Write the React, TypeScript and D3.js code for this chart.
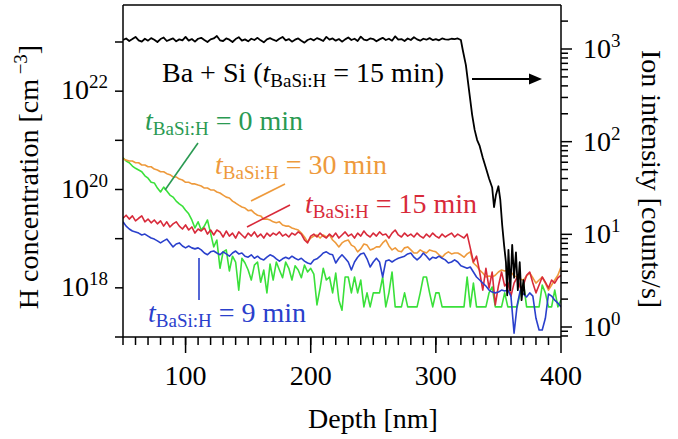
import React from 'react';
import * as d3 from 'd3';

// ---------- data ----------
const depthGrid: number[] = d3.range(0, 141).map((i) => 50 + i * 2.5); // nm

const hGreen0 = [
  4.4e20, 3.8e20, 3.5e20, 3.0e20, 2.7e20, 2.5e20, 2.3e20, 1.9e20, 1.7e20, 1.4e20,
  1.36e20, 1.07e20, 8.9e19, 1.12e20, 9.3e19, 7.7e19, 7.0e19, 5.8e19, 5.1e19, 4.6e19,
  3.8e19, 3.2e19, 2.4e19, 1.65e19, 2.2e19, 1.5e19, 1.8e19, 2.4e19, 1.3e19, 6.8e18,
  9.4e18, 2.5e18, 5.4e18, 5.9e18, 2.2e18, 4.4e18, 3.35e18, 9.0e17, 4.0e18, 3.2e18,
  2.3e18, 1.44e18, 2.9e18, 3.35e18, 1.3e18, 2.3e18, 7.9e17, 3.05e18, 1.44e18, 3.35e18,
  2.3e18, 1.6e18, 3.35e18, 2.5e18, 1.44e18, 2.8e18, 2.3e18, 1.6e18, 2.9e18, 2.1e18,
  2.5e18, 1.9e18, 4.5e17, 9.9e17, 2.5e18, 1.44e18, 1.66e18, 7.9e17, 2.0e18, 5.6e17,
  3.5e17, 1.66e18, 1.66e18, 7.9e17, 1.66e18, 7.9e17, 1.44e18, 4.1e17, 7.9e17, 4.1e17,
  7.9e17, 7.9e17, 7.9e17, 1.66e18, 4.1e17, 7.9e17, 2.1e18, 4.1e17, 4.1e17, 4.1e17,
  7.9e17, 4.1e17, 4.1e17, 4.1e17, 4.1e17, 7.9e17, 1.66e18, 1.66e18, 7.9e17, 4.1e17,
  7.9e17, 7.9e17, 4.1e17, 4.1e17, 4.1e17, 4.1e17, 4.1e17, 4.1e17, 4.1e17, 4.1e17,
  1.66e18, 4.1e17, 1.25e18, 4.1e17, 4.1e17, 4.1e17, 4.1e17, 7.9e17, 1.04e18, 4.1e17,
  4.1e17, 4.1e17, 7.9e17, 4.1e17, 4.1e17, 4.1e17, 4.1e17, 7.9e17, 1.25e18, 4.1e17,
  4.1e17, 4.1e17, 4.1e17, 4.1e17, 1.14e18, 7.9e17, 4.1e17, 4.1e17, 9.0e17, 4.1e17, 5.6e17,
];

const hBlue9 = [
  2.2e19, 1.8e19, 1.57e19, 1.43e19, 1.37e19, 1.3e19, 1.19e19, 1.24e19, 1.13e19, 1.03e19,
  9.8e18, 9.0e18, 8.2e18, 9.0e18, 9.8e18, 8.2e18, 6.8e18, 7.8e18, 8.2e18, 7.1e18,
  6.5e18, 7.1e18, 6.5e18, 6.2e18, 6.5e18, 5.9e18, 5.1e18, 4.7e18, 5.4e18, 5.6e18,
  5.1e18, 4.7e18, 5.4e18, 4.9e18, 4.4e18, 5.1e18, 5.6e18, 4.9e18, 5.1e18, 4.4e18,
  4.2e18, 4.7e18, 4.0e18, 4.4e18, 3.9e18, 3.7e18, 4.2e18, 4.7e18, 4.4e18, 3.9e18,
  3.5e18, 3.9e18, 4.2e18, 3.9e18, 4.4e18, 4.0e18, 3.7e18, 4.0e18, 3.5e18, 3.2e18,
  3.05e18, 3.7e18, 3.9e18, 4.4e18, 5.1e18, 5.4e18, 4.9e18, 4.7e18, 3.2e18, 4.0e18,
  4.7e18, 4.0e18, 3.35e18, 2.3e18, 3.35e18, 4.2e18, 4.9e18, 5.1e18, 3.9e18, 2.65e18,
  3.35e18, 4.0e18, 3.35e18, 1.66e18, 3.5e18, 3.7e18, 3.35e18, 3.7e18, 4.0e18, 4.2e18,
  4.4e18, 4.9e18, 5.1e18, 4.2e18, 3.7e18, 4.2e18, 5.1e18, 4.4e18, 3.7e18, 4.2e18,
  4.0e18, 4.4e18, 4.0e18, 3.7e18, 3.2e18, 3.35e18, 3.7e18, 3.35e18, 2.8e18, 2.65e18,
  2.5e18, 2.65e18, 2.1e18, 1.66e18, 1.44e18, 1.25e18, 1.09e18, 9.0e17, 8.2e17, 7.9e17,
  8.2e17, 9.0e17, 8.6e17, 9.0e17, 6.8e17, 1.2e17, 4.5e17, 9.0e17, 7.5e17, 6.5e17,
  7.9e17, 6.8e17, 2.4e17, 1.39e17, 1.39e17, 2.4e17, 7.5e17, 6.8e17, 5.6e17, 4.9e17, 4.1e17,
];

const hRed15 = [
  2.6e19, 3.0e19, 2.5e19, 2.9e19, 2.3e19, 2.6e19, 2.9e19, 2.2e19, 2.5e19, 2.1e19,
  2.4e19, 2.0e19, 2.3e19, 1.8e19, 2.2e19, 1.73e19, 2.0e19, 2.2e19, 1.8e19, 1.57e19,
  1.9e19, 1.5e19, 1.73e19, 1.3e19, 1.57e19, 1.43e19, 1.65e19, 1.24e19, 1.5e19, 1.19e19,
  1.5e19, 1.37e19, 1.08e19, 1.43e19, 1.13e19, 1.3e19, 1.03e19, 1.37e19, 1.19e19, 1.03e19,
  1.3e19, 1.13e19, 1.37e19, 1.08e19, 1.24e19, 1.03e19, 1.3e19, 1.13e19, 1.3e19, 1.19e19,
  1.37e19, 1.13e19, 1.24e19, 1.08e19, 1.3e19, 1.19e19, 1.37e19, 1.24e19, 9.4e18, 8.2e18,
  1.13e19, 1.24e19, 1.08e19, 1.3e19, 1.13e19, 1.03e19, 1.24e19, 1.08e19, 1.3e19, 1.03e19,
  1.19e19, 1.37e19, 1.13e19, 1.24e19, 1.03e19, 1.3e19, 1.13e19, 1.43e19, 1.19e19, 1.08e19,
  1.3e19, 1.13e19, 1.37e19, 1.19e19, 1.24e19, 1.03e19, 1.3e19, 1.5e19, 1.19e19, 1.08e19,
  1.3e19, 1.13e19, 1.24e19, 1.08e19, 1.3e19, 1.13e19, 1.03e19, 1.24e19, 1.08e19, 1.3e19,
  1.13e19, 1.03e19, 1.24e19, 1.08e19, 1.19e19, 1.3e19, 1.08e19, 1.24e19, 1.13e19, 1.03e19,
  1.24e19, 6.5e18, 3.35e18, 4.4e18, 2.1e18, 9.0e17, 2.5e18, 9.9e17, 2.1e18, 4.5e17,
  1.09e18, 2.1e18, 1.09e18, 1.3e18, 6.8e17, 1.25e18, 1.66e18, 9.9e17, 1.14e18, 1.8e18,
  2.1e18, 1.25e18, 7.9e17, 1.14e18, 1.66e18, 1.3e18, 9.9e17, 1.44e18, 1.25e18, 1.6e18, 1.8e18,
];

const hOrange30 = [
  4.2e20, 4.0e20, 3.8e20, 3.8e20, 3.5e20, 3.5e20, 3.15e20, 3.15e20, 2.9e20, 2.9e20,
  2.6e20, 2.5e20, 2.3e20, 2.3e20, 2.1e20, 2.0e20, 1.8e20, 1.8e20, 1.63e20, 1.56e20,
  1.4e20, 1.4e20, 1.3e20, 1.3e20, 1.23e20, 1.18e20, 1.07e20, 1.07e20, 9.8e19, 9.8e19,
  8.9e19, 8.5e19, 7.7e19, 7.0e19, 6.7e19, 5.8e19, 5.3e19, 4.8e19, 4.4e19, 4.2e19,
  3.7e19, 3.8e19, 3.3e19, 3.0e19, 2.9e19, 2.5e19, 2.5e19, 2.4e19, 2.2e19, 2.1e19,
  2.2e19, 1.9e19, 1.8e19, 1.8e19, 1.65e19, 1.57e19, 1.5e19, 1.3e19, 1.08e19, 8.6e18,
  1.03e19, 1.13e19, 1.19e19, 1.03e19, 1.19e19, 1.08e19, 1.19e19, 9.4e18, 8.2e18, 6.8e18,
  8.2e18, 9.0e18, 9.4e18, 7.4e18, 6.8e18, 5.4e18, 6.2e18, 7.8e18, 7.4e18, 5.9e18,
  6.2e18, 6.8e18, 6.8e18, 8.2e18, 9.4e18, 7.1e18, 5.9e18, 6.5e18, 5.6e18, 5.4e18,
  6.5e18, 6.8e18, 5.9e18, 5.1e18, 5.1e18, 5.9e18, 5.4e18, 5.1e18, 5.9e18, 5.6e18,
  5.4e18, 4.7e18, 4.2e18, 4.9e18, 5.4e18, 4.9e18, 5.1e18, 5.1e18, 4.7e18, 4.2e18,
  4.9e18, 5.4e18, 3.2e18, 2.8e18, 2.3e18, 2.0e18, 1.66e18, 1.74e18, 1.66e18, 1.8e18,
  2.1e18, 2.3e18, 2.2e18, 2.3e18, 2.1e18, 1.74e18, 1.66e18, 1.5e18, 1.44e18, 1.74e18,
  2.0e18, 1.6e18, 1.25e18, 1.44e18, 1.66e18, 1.25e18, 9.0e17, 1.14e18, 1.44e18, 1.8e18, 2.65e18,
];

// Ba + Si ion intensity (right axis)
const ionDepth: number[] = [
  ...d3.range(0, 108).map((i) => 50 + i * 2.5),
  320, 321.5, 324, 326.5, 329, 331, 333, 335, 337.5, 340,
  342.5, 345, 346.5, 348, 350, 351.5, 353, 354.5, 356, 357,
  358, 359.5, 361, 362.5, 364, 365.5, 367, 368.5, 370, 371,
];
const ionBaSi = [
  1250, 1300, 1220, 1280, 1350, 1240, 1200, 1290, 1230, 1310,
  1260, 1190, 1280, 1330, 1220, 1260, 1300, 1210, 1270, 1240,
  1350, 1230, 1280, 1200, 1290, 1320, 1250, 1190, 1270, 1300,
  1380, 1240, 1220, 1300, 1260, 1190, 1280, 1340, 1230, 1270,
  1210, 1290, 1250, 1320, 1240, 1180, 1270, 1310, 1260, 1220,
  1290, 1350, 1240, 1280, 1200, 1260, 1300, 1230, 1170, 1250,
  1290, 1240, 1310, 1270, 1220, 1350, 1260, 1300, 1230, 1280,
  1200, 1270, 1330, 1250, 1290, 1220, 1360, 1260, 1240, 1300,
  1280, 1210, 1270, 1320, 1250, 1290, 1230, 1370, 1260, 1280,
  1220, 1300, 1250, 1340, 1270, 1230, 1290, 1260, 1310, 1250,
  1280, 1240, 1300, 1270, 1260, 1290, 1280, 1300,
  1250, 975, 670, 360, 195, 134, 104, 90, 67, 52,
  40, 32, 19.7, 26.6, 33, 23.5, 12.6, 7.7, 5.0, 2.2,
  6.8, 2.5, 7.7, 3.4, 6.4, 2.5, 5.0, 1.95, 3.2, 2.2,
];

const xMajorTicks = [100, 200, 300, 400];
const xMinorTicks = d3.range(50, 400, 10);
const leftTickExps = [17, 18, 19, 20, 21, 22, 23];
const leftLabelExps = [18, 20, 22];
const rightTickExps = [0, 1, 2, 3];

const C_GREEN_LINE = '#3ae03a';
const C_GREEN_TEXT = '#2a9a52';
const C_ORANGE = '#ee9a3c';
const C_RED = '#d82a3a';
const C_BLUE = '#2a40cc';

export default function App() {
  const x = d3.scaleLinear().domain([50, 400]).range([123, 561]);
  const yL = d3.scaleLog().domain([1e17, 1e23]).range([337, 42]);
  const yR = d3.scaleLog().domain([1, 1000]).range([327, 49]);

  const lineL = d3
    .line<number>()
    .x((_, i) => x(depthGrid[i]))
    .y((d) => yL(d));
  const lineR = d3
    .line<number>()
    .x((_, i) => x(ionDepth[i]))
    .y((d) => yR(d));

  const rightMinor: number[] = [];
  [0.1, 1, 10, 100, 1000].forEach((dec) => {
    for (let m = 2; m <= 9; m++) {
      const v = m * dec;
      const yy = yR(v);
      if (yy >= 5 && yy <= 337.5) rightMinor.push(v);
    }
  });

  const sub = (txt: string) => (
    <>
      <tspan fontStyle="italic" fontFamily="Times New Roman">t</tspan>
      <tspan fontSize={19} dy={5} fontFamily="Times New Roman">BaSi:H</tspan>
      <tspan dy={-5} fontFamily="Times New Roman">{txt}</tspan>
    </>
  );

  return (
    <svg width={678} height={439} style={{ position: 'absolute', left: 0, top: 0 }}>
      <defs>
        <clipPath id="plotclip">
          <rect x={123} y={5} width={438} height={332} />
        </clipPath>
      </defs>
      <rect x={0} y={0} width={678} height={439} fill="#fff" />

      {/* data lines */}
      <g clipPath="url(#plotclip)" fill="none" strokeWidth={1.6} strokeLinejoin="round">
        <path d={lineL(hGreen0) || ''} stroke={C_GREEN_LINE} />
        <path d={lineL(hOrange30) || ''} stroke={C_ORANGE} />
        <path d={lineL(hRed15) || ''} stroke={C_RED} />
        <path d={lineL(hBlue9) || ''} stroke={C_BLUE} />
        <path d={lineR(ionBaSi) || ''} stroke="#000" strokeWidth={1.8} />
      </g>

      {/* frame */}
      <g stroke="#000" strokeWidth={1.5} fill="none">
        <line x1={123} y1={5} x2={561} y2={5} />
        <line x1={123} y1={5} x2={123} y2={337} />
        <line x1={561} y1={5} x2={561} y2={337} />
        <line x1={123} y1={337} x2={561} y2={337} />
      </g>

      {/* left ticks */}
      <g stroke="#000" strokeWidth={1.5}>
        {leftTickExps.map((e) => (
          <line key={e} x1={115} x2={123} y1={yL(10 ** e)} y2={yL(10 ** e)} />
        ))}
      </g>
      {leftLabelExps.map((e) => (
        <text key={e} x={108} y={yL(10 ** e) + 8} textAnchor="end" fontSize={28} fontFamily="Times New Roman">
          10<tspan fontSize={19} dy={-11}>{e}</tspan>
        </text>
      ))}

      {/* bottom ticks */}
      <g stroke="#000" strokeWidth={1.5}>
        {xMinorTicks.map((t) => (
          <line key={'m' + t} x1={x(t)} x2={x(t)} y1={337} y2={345} />
        ))}
        {xMajorTicks.map((t) => (
          <line key={'M' + t} x1={x(t)} x2={x(t)} y1={337} y2={353} />
        ))}
      </g>
      {xMajorTicks.map((t) => (
        <text key={t} x={x(t)} y={385} fontSize={28} textAnchor="middle" fontFamily="Times New Roman">
          {t}
        </text>
      ))}

      {/* right ticks */}
      <g stroke="#000" strokeWidth={1.5}>
        {rightTickExps.map((e) => (
          <line key={e} x1={561} x2={572} y1={yR(10 ** e)} y2={yR(10 ** e)} />
        ))}
        {rightMinor.map((v) => (
          <line key={'r' + v} x1={561} x2={568} y1={yR(v)} y2={yR(v)} />
        ))}
      </g>
      {rightTickExps.map((e) => (
        <text key={e} x={583} y={yR(10 ** e) + 9} fontSize={28} fontFamily="Times New Roman">
          10<tspan fontSize={19} dy={-11}>{e}</tspan>
        </text>
      ))}

      {/* axis titles */}
      <text x={373} y={428} fontSize={28} textAnchor="middle" fontFamily="Times New Roman">
        Depth [nm]
      </text>
      <text transform="translate(38,177) rotate(-90)" fontSize={28} textAnchor="middle" fontFamily="Times New Roman">
        H concentration [cm<tspan fontSize={19} dy={-11}>{' \u22123'}</tspan>
        <tspan dy={11}>]</tspan>
      </text>
      <text transform="translate(642,179) rotate(90)" fontSize={28} textAnchor="middle" fontFamily="Times New Roman">
        Ion intensity [counts/s]
      </text>

      {/* annotations */}
      <text x={162} y={82} fontSize={28} fill="#000" fontFamily="Times New Roman">
        Ba + Si ({sub(' = 15 min)')}
      </text>
      <line x1={472} y1={79} x2={531} y2={79} stroke="#000" strokeWidth={1.8} />
      <polygon points="542,79 529,73.5 529,84.5" fill="#000" />

      <text x={145} y={130} fontSize={28} fill={C_GREEN_TEXT} fontFamily="Times New Roman">
        {sub(' = 0 min')}
      </text>
      <line x1={198} y1={143} x2={165} y2={190} stroke={C_GREEN_TEXT} strokeWidth={1.6} />

      <text x={215} y={174} fontSize={28} fill={C_ORANGE} fontFamily="Times New Roman">
        {sub(' = 30 min')}
      </text>
      <line x1={285} y1={184} x2={251} y2={201} stroke={C_ORANGE} strokeWidth={1.6} />

      <text x={305} y={213} fontSize={28} fill={C_RED} fontFamily="Times New Roman">
        {sub(' = 15 min')}
      </text>
      <line x1={290} y1={205} x2={247} y2={227} stroke={C_RED} strokeWidth={1.6} />

      <text x={148} y={322} fontSize={28} fill={C_BLUE} fontFamily="Times New Roman">
        {sub(' = 9 min')}
      </text>
      <line x1={199} y1={258} x2={199} y2={300} stroke={C_BLUE} strokeWidth={1.6} />
    </svg>
  );
}
